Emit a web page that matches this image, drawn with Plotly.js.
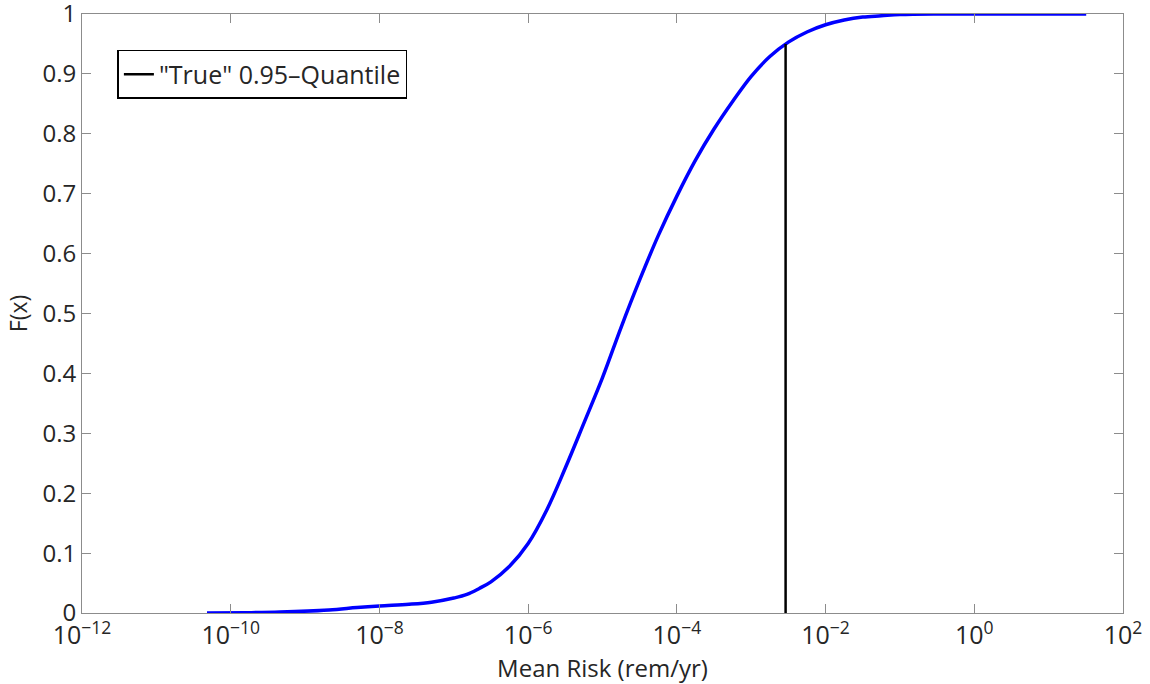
<!DOCTYPE html>
<html>
<head>
<meta charset="utf-8">
<script src="https://cdn.plot.ly/plotly-3.0.1.min.js"></script>
<style>html,body{margin:0;padding:0;background:#fff;}#chart{width:1150px;height:684px;}</style>
</head>
<body>
<div id="chart"></div>
<script>
// CDF of mean risk (rem/yr)
const riskValues = [4.8e-11, 1.6e-10, 4.6e-10, 2.1e-9, 5e-9, 1.0e-8, 2.5e-8, 5.0e-8, 1.0e-7, 1.5e-7, 2.2e-7, 3.16e-7, 5.62e-7, 1.0e-6, 1.78e-6, 3.16e-6, 5.62e-6, 1.0e-5, 1.78e-5, 3.16e-5, 5.62e-5, 1.0e-4, 1.78e-4, 3.16e-4, 5.62e-4, 1.0e-3, 1.78e-3, 3.16e-3, 5.62e-3, 1.0e-2, 1.78e-2, 3.16e-2, 5.62e-2, 0.1, 0.32, 32];
const cdfValues  = [0, 0.0005, 0.0015, 0.005, 0.009, 0.0117, 0.0145, 0.018, 0.025, 0.031, 0.041, 0.052, 0.078, 0.116, 0.172, 0.242, 0.317, 0.393, 0.477, 0.556, 0.630, 0.696, 0.756, 0.808, 0.854, 0.896, 0.929, 0.953, 0.970, 0.982, 0.990, 0.995, 0.997, 0.999, 1.0, 1.0];

const quantileX = [2.9e-3, 2.9e-3];
const quantileY = [0, 0.95];
const quantileName = '"True" 0.95\u2013Quantile';

const xTickVals = [1e-12, 1e-10, 1e-8, 1e-6, 1e-4, 1e-2, 1e0, 1e2];
const xTickText = ['10<sup>\u221212</sup>', '10<sup>\u221210</sup>', '10<sup>\u22128</sup>', '10<sup>\u22126</sup>', '10<sup>\u22124</sup>', '10<sup>\u22122</sup>', '10<sup>0</sup>', '10<sup>2</sup>'];
const yTickVals = [0, 0.1, 0.2, 0.3, 0.4, 0.5, 0.6, 0.7, 0.8, 0.9, 1];
const yTickText = ['0', '0.1', '0.2', '0.3', '0.4', '0.5', '0.6', '0.7', '0.8', '0.9', '1'];

const xTitle = 'Mean Risk (rem/yr)';
const yTitle = 'F(x)';

const fontFam = '"Open Sans", "Noto Sans", sans-serif';
const txtColor = '#262626';
const axColor = '#8c8c8c';

const traces = [
  {
    x: riskValues, y: cdfValues, type: 'scatter', mode: 'lines',
    line: {color: '#0000ff', width: 3.5, shape: 'spline', smoothing: 1},
    showlegend: false, hoverinfo: 'x+y'
  },
  {
    x: quantileX, y: quantileY, type: 'scatter', mode: 'lines',
    name: quantileName,
    line: {color: '#000000', width: 2.5},
    showlegend: true
  }
];

const layout = {
  width: 1150, height: 684,
  margin: {l: 82, r: 27, t: 14, b: 71},
  paper_bgcolor: '#ffffff', plot_bgcolor: '#ffffff',
  font: {family: fontFam, size: 23, color: txtColor},
  showlegend: true,
  legend: {
    x: 0.034, y: 0.94, xanchor: 'left', yanchor: 'top',
    bgcolor: '#ffffff', bordercolor: '#000000', borderwidth: 1.5,
    font: {family: fontFam, size: 25, color: txtColor},
    itemwidth: 30
  },
  xaxis: {
    type: 'log', range: [-12, 2],
    tickmode: 'array', tickvals: xTickVals, ticktext: xTickText,
    ticks: 'inside', ticklen: 9, tickcolor: axColor, tickwidth: 1,
    showline: true, linecolor: axColor, linewidth: 1, mirror: 'ticks',
    showgrid: false, zeroline: false, ticklabeloverflow: 'allow',
    tickfont: {family: fontFam, size: 25, color: txtColor},
    title: {text: xTitle, font: {family: fontFam, size: 24, color: txtColor}, standoff: 4}
  },
  yaxis: {
    range: [0, 1],
    tickmode: 'array', tickvals: yTickVals, ticktext: yTickText,
    ticks: 'inside', ticklen: 9, tickcolor: axColor, tickwidth: 1,
    showline: true, linecolor: axColor, linewidth: 1, mirror: 'ticks',
    showgrid: false, zeroline: false, ticklabeloverflow: 'allow',
    tickfont: {family: fontFam, size: 24, color: txtColor},
    title: {text: yTitle, font: {family: fontFam, size: 23, color: txtColor}, standoff: 8}
  }
};

Plotly.newPlot('chart', traces, layout, {staticPlot: true});
</script>
</body>
</html>
